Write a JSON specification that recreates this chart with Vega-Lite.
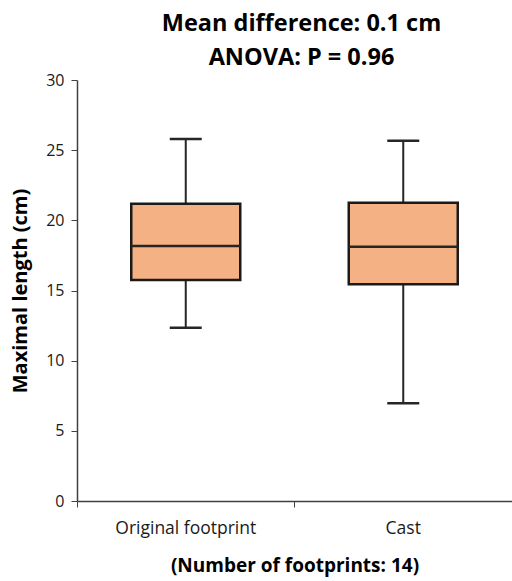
{
  "$schema": "https://vega.github.io/schema/vega-lite/v6.json",
  "autosize": "none",
  "padding": {"left": 77, "top": 80, "right": 0, "bottom": 80},
  "width": 435,
  "height": 421,
  "background": "white",
  "title": {
    "text": ["Mean difference: 0.1 cm", "ANOVA: P = 0.96"],
    "font": "Open Sans",
    "fontSize": 23.5,
    "fontWeight": "bold",
    "color": "#000000",
    "lineHeight": 34,
    "anchor": "middle",
    "dx": 7,
    "offset": 3
  },
  "config": {
    "view": {"stroke": null},
    "axis": {
      "labelFont": "Open Sans",
      "titleFont": "Open Sans",
      "labelColor": "#1a1a1a",
      "titleColor": "#000000",
      "domainColor": "#404040",
      "tickColor": "#404040",
      "grid": false
    }
  },
  "data": {
    "values": [
      {"group": "Original footprint", "min": 12.35, "q1": 15.75, "median": 18.17, "q3": 21.19, "max": 25.8},
      {"group": "Cast", "min": 6.96, "q1": 15.44, "median": 18.12, "q3": 21.26, "max": 25.67}
    ]
  },
  "encoding": {
    "x": {
      "field": "group",
      "type": "nominal",
      "sort": ["Original footprint", "Cast"],
      "scale": {"paddingInner": 0, "paddingOuter": 0},
      "axis": {
        "title": "(Number of footprints: 14)",
        "titleFontSize": 19,
        "titleFontWeight": "bold",
        "titlePadding": 20,
        "labelAngle": 0,
        "labelFontSize": 17.5,
        "labelPadding": 12,
        "bandPosition": 0,
        "tickSize": 6,
        "domainWidth": 1.5
      }
    }
  },
  "layer": [
    {
      "mark": {"type": "rule", "color": "#262626", "strokeWidth": 2},
      "encoding": {
        "y": {
          "field": "min",
          "type": "quantitative",
          "scale": {"domain": [0, 30]},
          "axis": {
            "title": "Maximal length (cm)",
            "titleFontSize": 20,
            "titleFontWeight": "bold",
            "titlePadding": 15,
            "values": [0, 5, 10, 15, 20, 25, 30],
            "labelFontSize": 16,
            "labelPadding": 7,
            "tickSize": 6,
            "domainWidth": 1.5
          }
        },
        "y2": {"field": "max"}
      }
    },
    {
      "mark": {"type": "tick", "color": "#262626", "size": 32, "thickness": 2.5, "opacity": 1},
      "encoding": {"y": {"field": "min", "type": "quantitative"}}
    },
    {
      "mark": {"type": "tick", "color": "#262626", "size": 32, "thickness": 2.5, "opacity": 1},
      "encoding": {"y": {"field": "max", "type": "quantitative"}}
    },
    {
      "mark": {"type": "bar", "fill": "#F4B183", "stroke": "#1a1a1a", "strokeWidth": 2.5, "width": 109},
      "encoding": {
        "y": {"field": "q1", "type": "quantitative"},
        "y2": {"field": "q3"}
      }
    },
    {
      "mark": {"type": "tick", "color": "#262626", "size": 109, "thickness": 2.5, "opacity": 1},
      "encoding": {"y": {"field": "median", "type": "quantitative"}}
    }
  ]
}
